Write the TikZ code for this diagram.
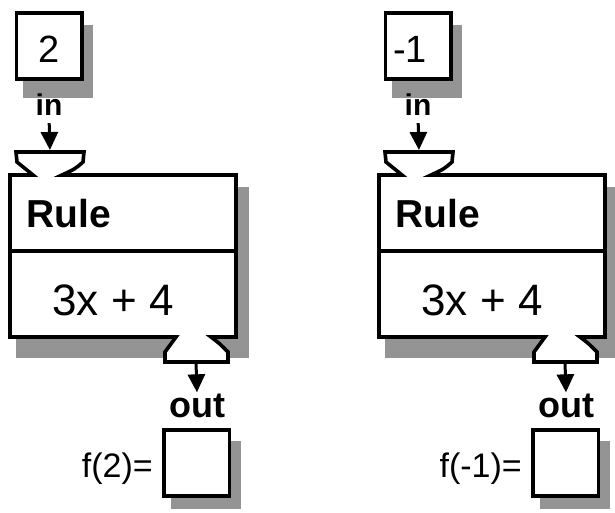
\documentclass[tikz,border=0pt]{standalone}
\usepackage{fontspec}
\setmainfont{Liberation Sans}
\usetikzlibrary{arrows.meta}
\tikzset{
  x=1pt, y=-1pt,
  thickline/.style={line width=3.6pt, line join=miter},
  dropfill/.style={fill=black!42},
  valbox/.style={draw, thickline, fill=white, minimum width=65.5pt, minimum height=66pt, inner sep=0pt},
  lbl/.style={inner sep=0pt, anchor=base},
  arr/.style={line width=3pt, -{Triangle[width=17pt,length=18pt]}},
}
% one function machine: #1 name prefix, #2 horizontal shift, #3 input value,
% #4 x of the input value, #5 label before the answer box
\newcommand\fnmachine[5]{%
\begin{scope}[xshift=#2]
  % drop shadows
  \fill[dropfill] (23,25) rectangle (93,98);
  \fill[dropfill] (16,187) rectangle (249,358);
  \fill[dropfill] (171,441) rectangle (241,509);
  % input box
  \node[valbox] (#1box) at (49.25,46.25) {};
  \node[lbl, font=\fontsize{38}{38}\selectfont] (#1val) at (#4,63) {#3};
  \node[lbl, font=\fontsize{30}{30}\selectfont\bfseries] (#1inlbl) at (49,116) {in};
  \coordinate (#1hopin) at (50,152);
  \coordinate (#1hopout) at (196,362);
  % machine body with its input and output hoppers
  \draw[thickline, fill=white]
    (10,175) -- (33,175)
    .. controls (25,169) .. (17,162) -- (16,152) -- (84,152) -- (83,162)
    .. controls (75,169) .. (62,175)
    -- (236,175) -- (236,337) -- (211,337)
    .. controls (219,343) .. (228,352) -- (228,362)
    -- (165,362) -- (165,352)
    .. controls (170,344) .. (176,337)
    -- (10,337) -- cycle;
  \draw[thickline] (10,251) -- (236,251);
  \node[lbl, anchor=base west, font=\fontsize{39}{39}\selectfont\bfseries] (#1rule) at (26,227) {Rule};
  \node[lbl, font=\fontsize{44}{44}\selectfont] (#1expr) at (113,315) {3x + 4};
  % output
  \node[lbl, font=\fontsize{36}{36}\selectfont\bfseries] (#1outlbl) at (197,417) {out};
  \node[valbox] (#1ans) at (196.75,463) {};
  \node[lbl, anchor=base east, font=\fontsize{34}{34}\selectfont] (#1fn) at (153,477) {#5};
  % flow arrows
  \draw[arr, shorten <=7pt, shorten >=2pt] (#1inlbl.south) -- (#1hopin);
  \draw[arr, shorten >=1pt] (#1hopout) -- (#1outlbl.north);
\end{scope}}

\begin{document}
\begin{tikzpicture}
  \useasboundingbox (0,0) rectangle (615,513);
  \fill[white] (0,0) rectangle (615,513);
  \fnmachine{L}{0pt}{2}{49}{f(2)=}
  \fnmachine{R}{369pt}{-1}{41}{f(-1)=}
\end{tikzpicture}
\end{document}
